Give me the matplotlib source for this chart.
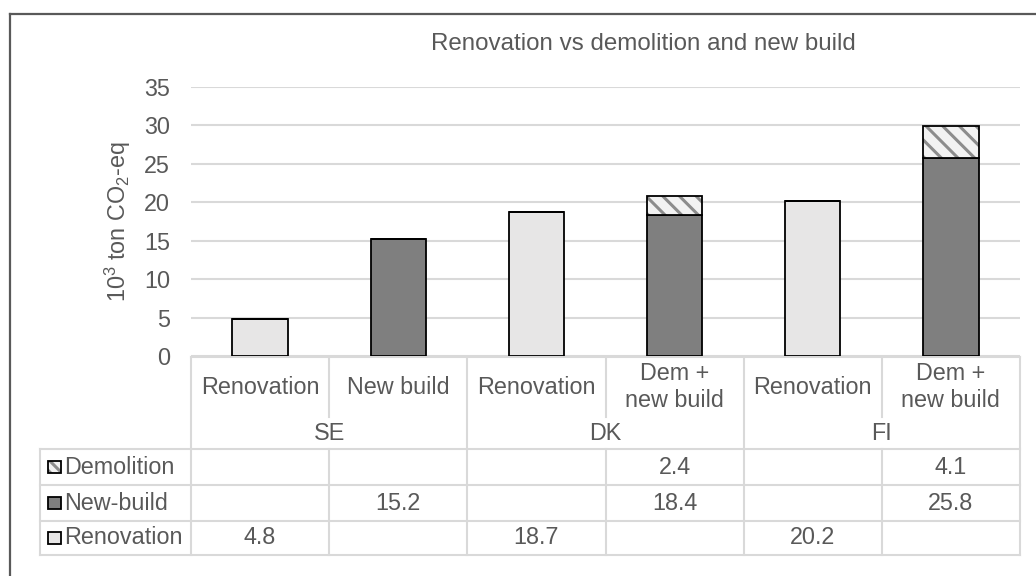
import matplotlib
matplotlib.use("Agg")
import matplotlib.pyplot as plt
import matplotlib.patches as mpatches
import matplotlib.transforms as mtransforms
import numpy as np

# ---------------- data ----------------
categories = ["Renovation", "New build", "Renovation", "Dem +\nnew build", "Renovation", "Dem +\nnew build"]
groups = ["SE", "DK", "FI"]
series_names = ["Demolition", "New-build", "Renovation"]
renovation = [4.8, 0, 18.7, 0, 20.2, 0]
new_build = [0, 15.2, 0, 18.4, 0, 25.8]
demolition = [0, 0, 0, 2.4, 0, 4.1]
yticks = [0, 5, 10, 15, 20, 25, 30, 35]
title = "Renovation vs demolition and new build"
ylabel = r"10$^{\mathrm{3}}$ ton CO$_{\mathrm{2}}$-eq"

# ---------------- style ----------------
plt.rcParams["font.family"] = ["Liberation Sans", "DejaVu Sans"]
plt.rcParams["mathtext.fontset"] = "custom"
plt.rcParams["mathtext.rm"] = "Liberation Sans"
plt.rcParams["mathtext.it"] = "Liberation Sans:italic"
plt.rcParams["mathtext.bf"] = "Liberation Sans:bold"
plt.rcParams["hatch.linewidth"] = 2.2

TXT = "#595959"
GRID = "#D9D9D9"
C_REN = "#E7E6E6"
C_NEW = "#7F7F7F"
C_DEM_BG = "#F2F2F2"
C_DEM_HATCH = "#8C8C8C"
FS = 16.8
FS_TITLE = 17.4

W, H = 1036, 576
fig = plt.figure(figsize=(W / 100, H / 100), dpi=100)
fig.patch.set_facecolor("white")

AX_L, AX_R = 191, 1020
AX_T, AX_B = 87, 356
ax = fig.add_axes([AX_L / W, 1 - AX_B / H, (AX_R - AX_L) / W, (AX_B - AX_T) / H])

x = np.arange(len(categories))
bw = 0.4
ax.bar(x, renovation, bw, color=C_REN, edgecolor="black", linewidth=1.3, zorder=3)
ax.bar(x, new_build, bw, bottom=renovation, color=C_NEW, edgecolor="black", linewidth=1.3, zorder=3)
bottom2 = np.array(renovation) + np.array(new_build)
ax.bar(x, demolition, bw, bottom=bottom2, color=C_DEM_BG, edgecolor=C_DEM_HATCH,
       hatch="\\\\", linewidth=0, zorder=3)
ax.bar(x, demolition, bw, bottom=bottom2, fill=False, edgecolor="black", linewidth=1.3, zorder=4)

ax.set_xlim(-0.5, len(categories) - 0.5)
ax.set_ylim(0, 35)
ax.set_yticks(yticks)
ax.set_xticks([])
ax.tick_params(axis="y", length=0, pad=15, labelsize=FS, labelcolor=TXT)
for s in ax.spines.values():
    s.set_visible(False)
ax.grid(axis="y", color=GRID, linewidth=1.5, zorder=0)
ax.set_axisbelow(True)

# title and y-label
fig.text(643 / W, 1 - 44 / H, title, ha="center", va="center", fontsize=FS_TITLE, color=TXT)
fig.text(118 / W, 1 - 222 / H, ylabel, ha="center", va="center", rotation=90, fontsize=FS, color=TXT)

# ---------------- table ----------------
tr = mtransforms.blended_transform_factory(ax.transData, fig.transFigure)
def fy(py):
    return 1 - py / H

ncat = len(categories)
px_per_unit = (AX_R - AX_L) / ncat
x_left = -0.5 + (40 - AX_L) / px_per_unit
x_right = ncat - 0.5
ROW_TOP = 357
SUB_BOT = 417
HDR_BOT = 449
row_lines = [449, 485, 521, 555]

def hline(x0, x1, py):
    ax.add_line(plt.Line2D([x0, x1], [fy(py), fy(py)], transform=tr, color=GRID,
                           linewidth=1.5, clip_on=False))
def vline(xx, py0, py1):
    ax.add_line(plt.Line2D([xx, xx], [fy(py0), fy(py1)], transform=tr, color=GRID,
                           linewidth=1.5, clip_on=False))

hline(-0.5, x_right, ROW_TOP)
for py in row_lines:
    hline(x_left, x_right, py)
vline(x_left, HDR_BOT, row_lines[-1])
for i in range(ncat + 1):
    xb = i - 0.5
    if i % 2 == 0:
        vline(xb, ROW_TOP, row_lines[-1])
    else:
        vline(xb, ROW_TOP, SUB_BOT)
        vline(xb, HDR_BOT, row_lines[-1])

# category labels
for i, c in enumerate(categories):
    ax.text(i, fy(387), c, transform=tr, ha="center", va="center", fontsize=FS,
            color=TXT, linespacing=1.2, clip_on=False)
for g, name in enumerate(groups):
    ax.text(2 * g + 0.5, fy(433), name, transform=tr, ha="center", va="center",
            fontsize=FS, color=TXT, clip_on=False)

# data rows
row_data = [demolition, new_build, renovation]
row_centers = [467, 503, 538]
for r, (name, vals) in enumerate(zip(series_names, row_data)):
    cy = row_centers[r]
    # legend key
    if name == "Demolition":
        fig.add_artist(mpatches.Rectangle((48 / W, 1 - (cy + 6) / H), 13 / W, 12 / H,
                                          transform=fig.transFigure, facecolor=C_DEM_BG,
                                          edgecolor=C_DEM_HATCH, hatch="\\\\\\", linewidth=0))
        fig.add_artist(mpatches.Rectangle((48 / W, 1 - (cy + 6) / H), 13 / W, 12 / H,
                                          transform=fig.transFigure, fill=False,
                                          edgecolor="black", linewidth=1.3))
    else:
        col = C_NEW if name == "New-build" else C_REN
        fig.add_artist(mpatches.Rectangle((48 / W, 1 - (cy + 6) / H), 13 / W, 12 / H,
                                          transform=fig.transFigure, facecolor=col,
                                          edgecolor="black", linewidth=1.3))
    fig.text(64 / W, fy(cy), name, ha="left", va="center", fontsize=FS, color=TXT)
    for i, v in enumerate(vals):
        if v:
            ax.text(i, fy(cy), f"{v:.1f}", transform=tr, ha="center", va="center",
                    fontsize=FS, color=TXT, clip_on=False)

# outer frame
fig.add_artist(plt.Line2D([9.5 / W, 1.0], [fy(14), fy(14)], transform=fig.transFigure,
                          color="#595959", linewidth=1.6))
fig.add_artist(plt.Line2D([9.5 / W, 9.5 / W], [fy(14), 0], transform=fig.transFigure,
                          color="#595959", linewidth=1.6))

fig.savefig("out.png", dpi=100, facecolor="white")
